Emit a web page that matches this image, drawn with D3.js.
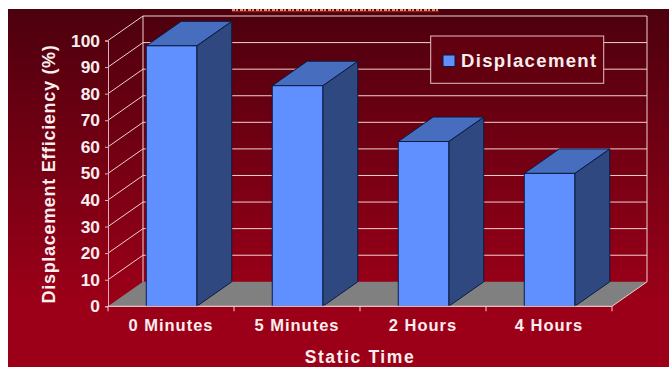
<!DOCTYPE html>
<html>
<head>
<meta charset="utf-8">
<script src="https://cdn.jsdelivr.net/npm/d3@7/dist/d3.min.js"></script>
<style>
html,body{margin:0;padding:0;background:#fff}
svg{display:block}
text{font-family:"Liberation Sans",Arial,sans-serif;font-weight:bold;fill:#fbeeee}
</style>
</head>
<body>
<script>
// Displacement efficiency against static time
const categories = ["0 Minutes", "5 Minutes", "2 Hours", "4 Hours"];
const displacement = [98, 83, 62, 50];
const yTicks = [0, 10, 20, 30, 40, 50, 60, 70, 80, 90, 100];
const seriesName = "Displacement";
const xTitle = "Static Time";
const yTitle = "Displacement Efficiency (%)";

const W = 669, H = 367;
const depthX = 35, depthY = -24.5;

const svg = d3.select("body").append("svg").attr("width", W).attr("height", H);

const defs = svg.append("defs");
const grad = defs.append("linearGradient").attr("id", "bg")
  .attr("gradientUnits", "userSpaceOnUse")
  .attr("x1", 0).attr("y1", 9).attr("x2", 0).attr("y2", 300);
grad.append("stop").attr("offset", 0).attr("stop-color", "#4c000e");
grad.append("stop").attr("offset", 1).attr("stop-color", "#9b0018");

svg.append("rect").attr("x", 8).attr("y", 9).attr("width", W - 8).attr("height", H - 9).attr("fill", "url(#bg)");

// Cut-off title strip along the top edge of the panel
svg.append("line").attr("x1", 232).attr("x2", 439).attr("y1", 11.5).attr("y2", 11.5)
  .attr("stroke", "#b01020").attr("stroke-width", 1.5);
svg.append("line").attr("x1", 232).attr("x2", 439).attr("y1", 10).attr("y2", 10)
  .attr("stroke", "#f4d890").attr("stroke-width", 1.5).attr("stroke-dasharray", "3 1 2 2");

const band = d3.scaleBand().domain(categories).range([108, 612]);
const y = d3.scaleLinear().domain([0, 100]).range([306.3, 40.5]);
const barW = 50.5;
const barLeft = c => band(c) + (band.bandwidth() - barW) / 2 + 0.5;

const wall = "#f0d0d0";
const back = svg.append("g");

// Floor of the 3D plot
const floor = [[108, y(0)], [612, y(0)], [612 + depthX, y(0) + depthY], [108 + depthX, y(0) + depthY]];
back.append("polygon").attr("points", floor.join(" ")).attr("fill", "#808080");

// Gridlines along the back wall, with their returns along the side wall
back.selectAll("line.grid").data(yTicks.slice(1)).join("line").attr("class", "grid")
  .attr("x1", 108 + depthX).attr("x2", 612 + depthX)
  .attr("y1", d => y(d) + depthY).attr("y2", d => y(d) + depthY)
  .attr("stroke", wall).attr("stroke-width", 1);
back.selectAll("line.side").data(yTicks.slice(1)).join("line").attr("class", "side")
  .attr("x1", 108).attr("x2", 108 + depthX)
  .attr("y1", d => y(d)).attr("y2", d => y(d) + depthY)
  .attr("stroke", wall).attr("stroke-width", 1);
back.append("line").attr("x1", 108 + depthX).attr("x2", 108 + depthX)
  .attr("y1", y(0) + depthY).attr("y2", y(100) + depthY).attr("stroke", wall);
back.append("line").attr("x1", 612 + depthX).attr("x2", 612 + depthX)
  .attr("y1", y(0) + depthY).attr("y2", y(100) + depthY).attr("stroke", wall);
back.append("line").attr("x1", 612).attr("x2", 612 + depthX)
  .attr("y1", y(0)).attr("y2", y(0) + depthY).attr("stroke", wall);

// Bars: side face, top face, front face
const bars = svg.selectAll("g.bar").data(categories.map((c, i) => ({c, v: displacement[i]}))).join("g").attr("class", "bar");
const outline = "#0a1a40";
bars.append("polygon").attr("fill", "#2f4880").attr("stroke", outline)
  .attr("points", d => {
    const r = barLeft(d.c) + barW;
    return [[r, y(0)], [r + depthX, y(0) + depthY], [r + depthX, y(d.v) + depthY], [r, y(d.v)]].join(" ");
  });
bars.append("polygon").attr("fill", "#476dbf").attr("stroke", outline)
  .attr("points", d => {
    const l = barLeft(d.c), r = l + barW;
    return [[l, y(d.v)], [l + depthX, y(d.v) + depthY], [r + depthX, y(d.v) + depthY], [r, y(d.v)]].join(" ");
  });
bars.append("rect").attr("fill", "#6090ff").attr("stroke", outline)
  .attr("x", d => barLeft(d.c)).attr("y", d => y(d.v))
  .attr("width", barW).attr("height", d => y(0) - y(d.v));

// Axes
const yAxis = d3.axisLeft(y).tickValues(yTicks).tickSize(3).tickPadding(5);
const yG = svg.append("g").attr("transform", "translate(108,0)").call(yAxis);
yG.select(".domain").attr("stroke", "#e0b0b8");
yG.selectAll(".tick line").attr("stroke", "#e0b0b8");
yG.selectAll("text").style("font-family", "Liberation Sans").style("font-weight", "bold").style("font-size", "17.4px");

const xAxis = d3.axisBottom(band).tickSize(0).tickPadding(13);
const xG = svg.append("g").attr("transform", `translate(0,${y(0)})`).call(xAxis);
xG.select(".domain").remove();
xG.selectAll("text").style("font-family", "Liberation Sans").style("font-weight", "bold")
  .style("font-size", "16.5px").style("letter-spacing", "1px");
svg.append("line").attr("x1", 108).attr("x2", 612).attr("y1", y(0)).attr("y2", y(0)).attr("stroke", "#f6e4e4");
svg.selectAll("line.xt").data(d3.range(categories.length + 1)).join("line").attr("class", "xt")
  .attr("x1", i => 108 + i * band.step()).attr("x2", i => 108 + i * band.step())
  .attr("y1", y(0)).attr("y2", y(0) + 5).attr("stroke", "#f0d0d0");

// Axis titles
svg.append("text").attr("x", 360).attr("y", 363).attr("text-anchor", "middle")
  .attr("font-size", 17.5).attr("letter-spacing", 1.6).text(xTitle);
svg.append("text").attr("transform", "translate(55,174) rotate(-90)").attr("text-anchor", "middle")
  .attr("font-size", 18).attr("letter-spacing", 0.7).text(yTitle);

// Legend
const legend = svg.append("g");
legend.append("rect").attr("x", 430.7).attr("y", 36).attr("width", 173).attr("height", 47.3)
  .attr("fill", "#62000f").attr("stroke", "#e0c0c4");
legend.append("rect").attr("x", 443).attr("y", 55).attr("width", 12).attr("height", 11.5)
  .attr("fill", "#6090ff").attr("stroke", "#0a1a40");
legend.append("text").attr("x", 461).attr("y", 66.5).attr("font-size", 18.5).attr("letter-spacing", 1.35).text(seriesName);
</script>
</body>
</html>
